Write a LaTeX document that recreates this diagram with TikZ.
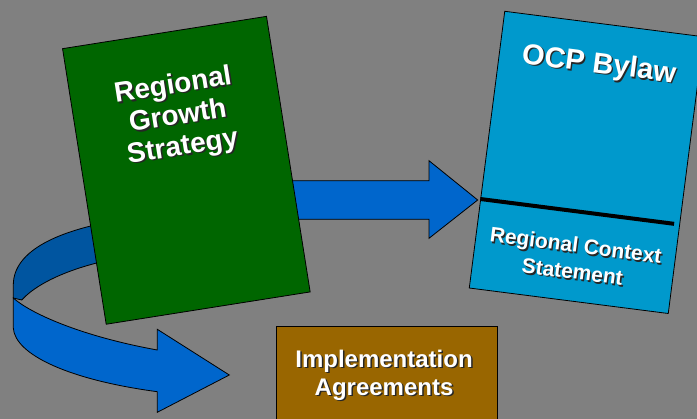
\documentclass[tikz,border=0pt]{standalone}
\usepackage{fontspec}
\setmainfont{Liberation Sans}
\usetikzlibrary{calc}
\definecolor{bgGray}{HTML}{808080}
\definecolor{rgsGreen}{HTML}{006600}
\definecolor{ocpBlue}{HTML}{0099CC}
\definecolor{arrowBlue}{HTML}{0066CC}
\definecolor{arrowDark}{HTML}{0055A0}
\definecolor{iaBrown}{HTML}{996600}
% white text with a dark drop shadow
\newcommand\shtxt[1]{\makebox[0pt][l]{\kern1.5pt\raisebox{-1.5pt}{\color{black!85}#1}}#1}

\begin{document}
\begin{tikzpicture}[x=1pt, y=-1pt,
  doc/.style={draw=black, line width=0.8pt, inner sep=0pt},
  lbl/.style={align=center, inner sep=0pt, text=white},
  bigarrow/.style={fill=arrowBlue, draw=black, line width=0.8pt, line join=miter}]
\clip (0,0) rectangle (697,419);
\fill[bgGray] (0,0) rectangle (697,419);

% curved arrow: back side, then front with head
\draw[fill=arrowDark, line width=0.8pt] (120,220) .. controls (60,230) and (13.3,250) .. (13.3,285) -- (13.3,298) -- (21.7,300) .. controls (40,280) and (80,265) .. (120,258) -- cycle;
\draw[bigarrow] (13.3,298) .. controls (30,313) and (80,336) .. (157.3,350) -- (157.3,329.3) -- (229.3,375) -- (157.3,412.3) -- (157.3,391.7) .. controls (70,380) and (15,355) .. (13.3,328) -- cycle;

% straight arrow
\draw[bigarrow] (270,180.7) -- (429,180.7) -- (429,160.7) -- (477.7,200) -- (429,238.3) -- (429,219.3) -- (270,219.3) -- cycle;

% documents
\node[doc, fill=rgsGreen, minimum width=206.5pt, minimum height=279pt, rotate=9] (rgs) at (186.35,170.3) {};
\node[doc, fill=ocpBlue, minimum width=200.6pt, minimum height=279pt, rotate=-7.3] (ocp) at (586.5,162.4) {};
\node[doc, fill=iaBrown, minimum width=221.3pt, minimum height=120pt, anchor=north west] (ia) at (276,325.7) {};
\draw[line width=4pt, shorten >=6pt] ($(ocp.north west)!0.678!(ocp.south west)$) -- ($(ocp.north east)!0.678!(ocp.south east)$);

% labels
\node[lbl, rotate=9, font=\bfseries\fontsize{28}{31}\selectfont] (rgs-txt) at ($(rgs.north)!0.31!(rgs.south)$) {\shtxt{Regional}\\\shtxt{Growth}\\\shtxt{Strategy}};
\node[lbl, rotate=-7.3, font=\bfseries\fontsize{29}{32}\selectfont] (ocp-txt) at ($(ocp.north)!0.154!(ocp.south)$) {\shtxt{OCP Bylaw}};
\node[lbl, rotate=-7.3, font=\bfseries\fontsize{21}{26.7}\selectfont] (rcs-txt) at ($(ocp.north)!0.848!(ocp.south)$) {\shtxt{Regional Context}\\\shtxt{Statement}};
\node[lbl, font=\bfseries\fontsize{24}{28}\selectfont] (ia-txt) at ($(ia.north)+(-3,50)$) {\shtxt{Implementation}\\\shtxt{Agreements}};
\end{tikzpicture}
\end{document}
